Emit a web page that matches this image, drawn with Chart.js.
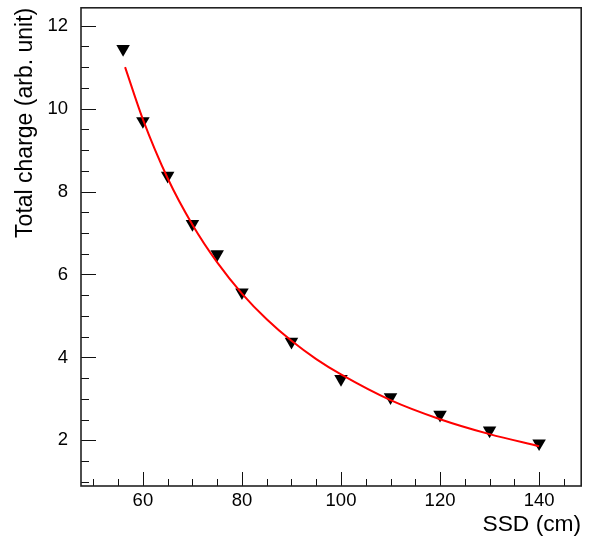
<!DOCTYPE html>
<html lang="en">
<head>
  <meta charset="UTF-8" />
  <title>Total charge vs SSD</title>
  <script src="https://cdn.jsdelivr.net/npm/chart.js"></script>
  <style>
    html, body { margin: 0; padding: 0; background: #fff; }
    #wrap { width: 589px; height: 538px; }
  </style>
</head>
<body>
  <div id="wrap"><canvas id="chart" width="589" height="538"></canvas></div>

  <script>
    // measured points (SSD in cm, total charge in arb. unit)
    const ssd = [56, 60, 65, 70, 75, 80, 90, 100, 110, 120, 130, 140];
    const charge = [11.44, 9.70, 8.38, 7.22, 6.49, 5.57, 4.38, 3.48, 3.04, 2.62, 2.24, 1.93];

    // fit curve
    const fitX = [56.4, 60, 65, 70, 75, 80, 85, 90, 95, 100, 110, 120, 130, 140];
    const fitY = [11.0, 9.74, 8.32, 7.20, 6.29, 5.54, 4.92, 4.40, 3.96, 3.59, 2.97, 2.51, 2.15, 1.86];

    // axis ticks
    const xTicks = [60, 80, 100, 120, 140];
    const yTicks = [2, 4, 6, 8, 10, 12];

    const FONT = '"Liberation Sans", Arial, Helvetica, sans-serif';

    // ROOT style frame with inward ticks on left and bottom
    const rootFrame = {
      id: 'rootFrame',
      afterDraw(chart) {
        const ctx = chart.ctx;
        const a = chart.chartArea;
        const xs = chart.scales.x, ys = chart.scales.y;
        ctx.save();
        ctx.strokeStyle = '#111';
        ctx.lineWidth = 1;
        ctx.beginPath();
        // x ticks every 5, major every 20
        for (let v = 50; v <= xs.max; v += 5) {
          const px = Math.round(xs.getPixelForValue(v)) + 0.5;
          const len = xTicks.includes(v) ? 14 : 7;
          ctx.moveTo(px, a.bottom);
          ctx.lineTo(px, a.bottom - len);
        }
        // y ticks every 0.5, major every 2
        for (let v = 1; v <= ys.max; v += 0.5) {
          const py = Math.round(ys.getPixelForValue(v)) + 0.5;
          const len = yTicks.includes(v) ? 15 : 8;
          ctx.moveTo(a.left, py);
          ctx.lineTo(a.left + len, py);
        }
        ctx.stroke();
        ctx.lineWidth = 1.6;
        ctx.strokeStyle = '#222';
        ctx.strokeRect(a.left, a.top, a.right - a.left, a.bottom - a.top);
        ctx.restore();
      }
    };

    // fixed box sizes so the plot frame sits where the original does
    function fixX(s) {
      s.height = 52;
      s.paddingLeft = 0; s.paddingRight = 0;
    }
    function fixY(s) {
      s.width = 81;
      s.paddingTop = 0; s.paddingBottom = 0;
    }

    new Chart(document.getElementById('chart'), {
      type: 'scatter',
      data: {
        datasets: [
          {
            label: 'data',
            data: ssd.map((x, i) => ({ x: x, y: charge[i] })),
            pointStyle: 'triangle',
            rotation: 180,
            pointRadius: 7.8,
            backgroundColor: '#000',
            borderColor: '#000',
            borderWidth: 0,
            order: 2
          },
          {
            label: 'fit',
            data: fitX.map((x, i) => ({ x: x, y: fitY[i] })),
            showLine: true,
            borderColor: '#ff0000',
            borderWidth: 2,
            pointRadius: 0,
            cubicInterpolationMode: 'monotone',
            order: 1
          }
        ]
      },
      options: {
        responsive: false,
        animation: false,
        devicePixelRatio: 1,
        layout: { padding: { left: 0, right: 6, top: 7, bottom: 0 } },
        plugins: { legend: { display: false }, tooltip: { enabled: false } },
        scales: {
          x: {
            type: 'linear',
            min: 47.5,
            max: 148.5,
            afterBuildTicks: s => { s.ticks = xTicks.map(v => ({ value: v })); },
            afterFit: fixX,
            grid: { display: false, drawTicks: false },
            border: { display: false },
            ticks: { color: '#000', font: { family: FONT, size: 18.5 }, padding: 4, maxRotation: 0 },
            title: {
              display: true,
              text: 'SSD (cm)',
              align: 'end',
              color: '#000',
              font: { family: FONT, size: 22.8 },
              padding: { top: 0, bottom: 0 }
            }
          },
          y: {
            type: 'linear',
            min: 0.9,
            max: 12.43,
            afterBuildTicks: s => { s.ticks = yTicks.map(v => ({ value: v })); },
            afterFit: fixY,
            grid: { display: false, drawTicks: false },
            border: { display: false },
            ticks: { color: '#000', font: { family: FONT, size: 18.5 }, padding: 13 },
            title: {
              display: true,
              text: 'Total charge (arb. unit)',
              align: 'end',
              color: '#000',
              font: { family: FONT, size: 23 },
              padding: { top: 11.5, bottom: 0 }
            }
          }
        }
      },
      plugins: [rootFrame]
    });
  </script>
</body>
</html>
